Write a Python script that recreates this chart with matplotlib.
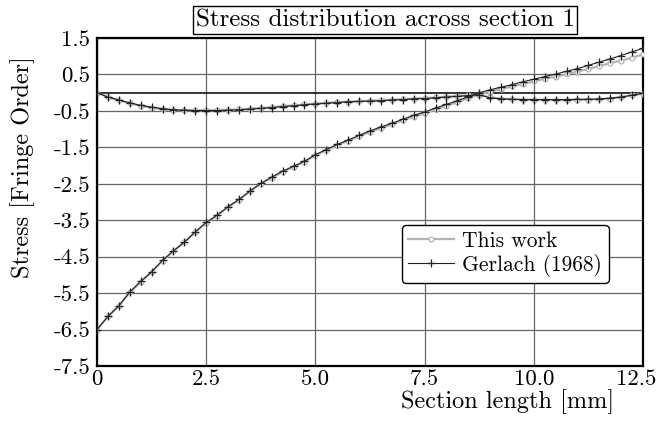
import matplotlib
matplotlib.use('Agg')
import matplotlib.pyplot as plt
from matplotlib.transforms import ScaledTranslation
import numpy as np

plt.rcParams['font.family'] = ['cmr10', 'DejaVu Serif']
plt.rcParams['axes.unicode_minus'] = False

# sample positions along the section [mm]
x = np.arange(0, 12.75, 0.25)

# Gerlach (1968): rising principal stress
gerlach_a = [-6.50, -6.14, -5.85, -5.47, -5.18, -4.92, -4.60, -4.34, -4.10, -3.82,
             -3.56, -3.36, -3.13, -2.93, -2.70, -2.49, -2.32, -2.15, -2.02, -1.88,
             -1.70, -1.56, -1.42, -1.30, -1.17, -1.05, -0.94, -0.84, -0.73, -0.62,
             -0.53, -0.42, -0.32, -0.22, -0.11, 0.00, 0.08, 0.15, 0.22, 0.30,
             0.37, 0.44, 0.51, 0.59, 0.66, 0.75, 0.84, 0.93, 1.02, 1.12, 1.22]
# Gerlach (1968): near-zero principal stress
gerlach_b = [0.00, -0.12, -0.20, -0.28, -0.35, -0.40, -0.44, -0.47, -0.48, -0.49,
             -0.49, -0.49, -0.48, -0.47, -0.45, -0.43, -0.41, -0.38, -0.36, -0.33,
             -0.31, -0.29, -0.27, -0.25, -0.24, -0.23, -0.22, -0.20, -0.19, -0.17,
             -0.16, -0.14, -0.12, -0.10, -0.08, -0.06, -0.14, -0.17, -0.18, -0.19,
             -0.19, -0.19, -0.19, -0.19, -0.18, -0.18, -0.17, -0.15, -0.12, -0.07, -0.02]
# This work
work_a = [-6.50, -6.14, -5.85, -5.48, -5.19, -4.92, -4.61, -4.35, -4.10, -3.83,
          -3.57, -3.37, -3.14, -2.94, -2.71, -2.50, -2.33, -2.17, -2.04, -1.90,
          -1.72, -1.58, -1.44, -1.32, -1.19, -1.08, -0.97, -0.87, -0.76, -0.66,
          -0.57, -0.46, -0.36, -0.26, -0.15, -0.05, 0.03, 0.10, 0.17, 0.24,
          0.31, 0.38, 0.44, 0.51, 0.58, 0.65, 0.73, 0.81, 0.88, 0.96, 1.05]
work_b = [0.00, -0.12, -0.21, -0.29, -0.36, -0.41, -0.45, -0.47, -0.48, -0.48,
          -0.48, -0.48, -0.47, -0.46, -0.44, -0.42, -0.40, -0.37, -0.35, -0.32,
          -0.30, -0.28, -0.26, -0.25, -0.23, -0.22, -0.21, -0.19, -0.18, -0.16,
          -0.15, -0.13, -0.11, -0.09, -0.07, -0.05, -0.13, -0.16, -0.18, -0.19,
          -0.19, -0.20, -0.20, -0.20, -0.20, -0.19, -0.18, -0.16, -0.12, -0.07, -0.03]

xticks = [0, 2.5, 5.0, 7.5, 10.0, 12.5]
xticklabels = ['0', '2.5', '5.0', '7.5', '10.0', '12.5']
yticks = [1.5, 0.5, -0.5, -1.5, -2.5, -3.5, -4.5, -5.5, -6.5, -7.5]
yticklabels = ['1.5', '0.5', '-0.5', '-1.5', '-2.5', '-3.5', '-4.5', '-5.5', '-6.5', '-7.5']

fig = plt.figure(figsize=(6.59, 4.21), dpi=100)
ax = fig.add_axes([0.1472, 0.1306, 0.8285, 0.7791])

gray = '#b4b4b4'
ax.plot(x, work_a, color=gray, lw=1.6, marker='o', ms=3.5, mfc='white', mec=gray,
        mew=0.9, label='This work', zorder=3)
ax.plot(x, work_b, color=gray, lw=1.6, marker='o', ms=3.5, mfc='white', mec=gray,
        mew=0.9, zorder=3)
ax.plot(x, gerlach_a, color='#222222', lw=0.8, marker='+', ms=6, mew=0.9,
        label='Gerlach (1968)', zorder=4)
ax.plot(x, gerlach_b, color='#222222', lw=0.8, marker='+', ms=6, mew=0.9, zorder=4)

ax.axhline(0, color='black', lw=1.1, zorder=2)

ax.set_xlim(0, 12.5)
ax.set_ylim(-7.5, 1.5)
ax.set_xticks(xticks)
ax.set_xticklabels(xticklabels)
ax.set_yticks(yticks)
ax.set_yticklabels(yticklabels)
ax.tick_params(length=0, labelsize=16.5, pad=5)
ax.tick_params(axis='x', pad=2.5)
ax.grid(True, color='#666666', lw=0.9, zorder=1)
ax.set_axisbelow(True)
for s in ax.spines.values():
    s.set_linewidth(1.6)
    s.set_color('black')

# last x label pulled left so it stays inside the figure
last = ax.get_xticklabels()[-1]
last.set_transform(last.get_transform() + ScaledTranslation(-0.07, 0, fig.dpi_scale_trans))

leg = ax.legend(loc='lower left', bbox_to_anchor=(0.5586, 0.253), fontsize=15.5,
                handlelength=2.1, handletextpad=0.4, borderpad=0.3, borderaxespad=0,
                labelspacing=0.12, fancybox=True, framealpha=1, edgecolor='black')
leg.get_frame().set_linewidth(1.0)

fig.text(385 / 659, 1 - 20 / 421, 'Stress distribution across section 1', ha='center',
         va='center', fontsize=18,
         bbox=dict(boxstyle='square,pad=0.1', facecolor='white', edgecolor='black', lw=1))
fig.text(508 / 659, 1 - 408 / 421, 'Section length [mm]', ha='center', va='baseline',
         fontsize=17.5)
fig.text(23 / 659, 1 - 167 / 421, 'Stress [Fringe Order]', ha='center', va='center',
         rotation=90, fontsize=17.5)

fig.savefig('out.png', dpi=100, facecolor='white')
